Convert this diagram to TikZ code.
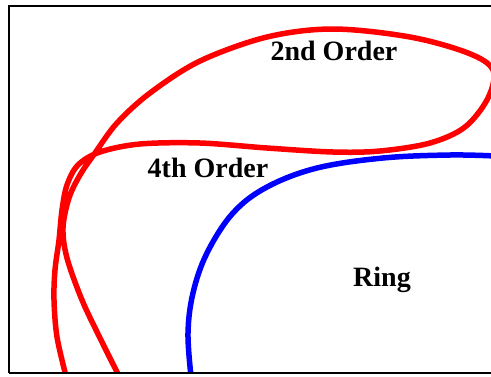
\documentclass[tikz,border=0pt]{standalone}
\usepackage{fontspec}
\setmainfont{Liberation Serif}
\begin{document}
\begin{tikzpicture}[x=1pt,y=-1pt,
  redcurve/.style={draw=red,line width=5.5pt,line cap=round,line join=round},
  bluecurve/.style={draw=blue,line width=5.5pt,line cap=round},
  lbl/.style={font=\fontsize{28}{30}\selectfont\bfseries,inner sep=0pt}]
\useasboundingbox (0,0) rectangle (491,376);
\clip (0,0) rectangle (491,376);
\begin{scope}
\clip (9,6) rectangle (491,373);
\draw[redcurve] plot[smooth,tension=0.55] coordinates {
  (119,376) (100,338) (82,300) (67,258) (63,228) (69,198) (80,175) (95,153)
  (117,123) (150,93) (200,61)
  (267,37) (333,29) (410,37) (468,53) (493,70) (488,98) (465,127)
  (430,143) (380,151) (333,152) (267,148) (200,143) (140,144) (100,152)
  (78,165) (67,185) (62,210) (59,240) (55,270) (54,300) (57,337) (66,376)};
\draw[bluecurve] plot[smooth,tension=0.6] coordinates {
  (191,376) (188,333) (193,293) (207,253) (233,213) (267,187) (317,168)
  (383,158) (450,155) (495,156)};
\end{scope}
\draw[line width=2pt] (9,373) -- (9,6) -- (500,6);
\draw[line width=2pt] (9,373) -- (500,373);
\node[lbl] (second) at (334,51) {2nd Order};
\node[lbl] (fourth) at (208,168) {4th Order};
\node[lbl] (ring) at (382,280) {Ring};
\end{tikzpicture}
\end{document}
